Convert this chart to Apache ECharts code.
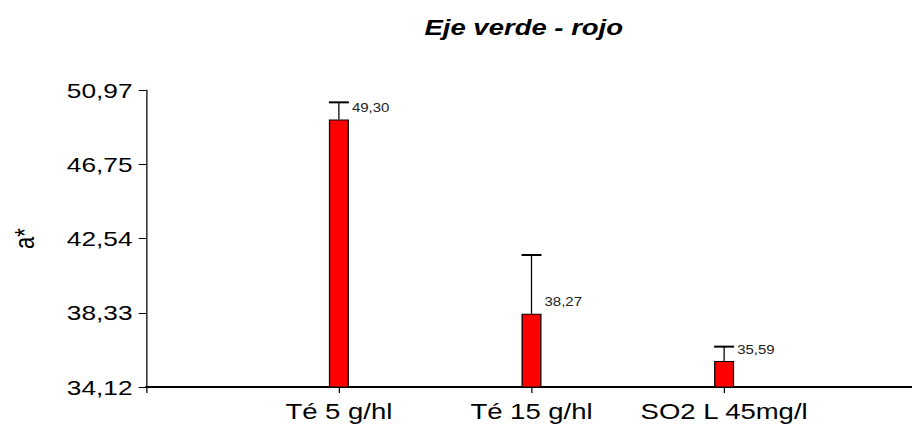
<!DOCTYPE html>
<html>
<head>
<meta charset="utf-8">
<script src="https://cdn.jsdelivr.net/npm/echarts@6/dist/echarts.min.js"></script>
<style>
  html, body { margin: 0; padding: 0; background: #fff; overflow: hidden; width: 912px; height: 428px; }
  /* the chart is laid out narrower and stretched horizontally; its right end runs off the page */
  #chart { width: 740px; height: 428px; transform: scaleX(1.25); transform-origin: 0 0; }
</style>
</head>
<body>
<div id="chart"></div>
<script>
// Treatments
const categories = ['Té 5 g/hl', 'Té 15 g/hl', 'SO2 L 45mg/l'];
// Mean a* per treatment
const means = [49.30, 38.27, 35.59];
// Upper error (standard deviation) per treatment
const errors = [0.97, 3.34, 0.82];
// Y axis tick values
const yTicks = [34.12, 38.33, 42.54, 46.75, 50.97];

const FONT = '"Liberation Sans", Arial, sans-serif';
const fmt = v => Number(v).toFixed(2).replace('.', ',');

// blank slots on both ends keep the treatments off the axis ends
const axisCats = [''].concat(categories, ['']);
const barData = ['-'].concat(means, ['-']);
const errData = means.map((m, i) => [i + 1, m, errors[i]]);

const chart = echarts.init(document.getElementById('chart'), null, { renderer: 'svg' });

chart.setOption({
  animation: false,
  backgroundColor: '#ffffff',
  graphic: [{
    type: 'text',
    x: 419,
    y: 27,
    style: {
      text: 'Eje verde - rojo',
      font: 'italic bold 22px ' + FONT,
      fill: '#000',
      textAlign: 'center',
      textVerticalAlign: 'middle'
    }
  }],
  grid: { left: 113.6, right: 6.6, top: 90, bottom: 41, containLabel: false },
  xAxis: {
    type: 'category',
    data: axisCats,
    boundaryGap: false,
    axisLine: { show: true, lineStyle: { color: '#000', width: 2 } },
    axisTick: {
      show: true, length: 6, lineStyle: { color: '#000', width: 1 },
      interval: idx => idx < axisCats.length - 1
    },
    axisLabel: { color: '#000', fontSize: 22, fontFamily: FONT, margin: 13, interval: 0 },
    splitLine: { show: false }
  },
  yAxis: {
    type: 'value',
    min: 34.12,
    max: 50.97,
    name: 'a*',
    nameLocation: 'middle',
    nameGap: 87,
    nameRotate: 90,
    nameTextStyle: { color: '#000', fontSize: 22, fontFamily: FONT },
    axisLine: { show: true, lineStyle: { color: '#000', width: 1 } },
    axisTick: { show: true, length: 6, customValues: yTicks, lineStyle: { color: '#000', width: 1 } },
    axisLabel: {
      show: true, customValues: yTicks, color: '#000', fontSize: 21, fontFamily: FONT, margin: 11,
      formatter: v => fmt(v)
    },
    splitLine: { show: false }
  },
  series: [
    {
      type: 'bar',
      data: barData,
      barWidth: 16,
      itemStyle: { color: '#ff0000', borderColor: '#000', borderWidth: 1 },
      z: 2
    },
    {
      type: 'custom',
      data: errData,
      z: 3,
      renderItem: function (params, api) {
        const x = api.value(0);
        const m = api.value(1);
        const e = api.value(2);
        const pBar = api.coord([x, m]);
        const pTop = api.coord([x, m + e]);
        const half = 8;
        return {
          type: 'group',
          children: [
            { type: 'line', shape: { x1: pBar[0], y1: pBar[1], x2: pTop[0], y2: pTop[1] },
              style: { stroke: '#000', lineWidth: 1 } },
            { type: 'line', shape: { x1: pTop[0] - half, y1: pTop[1], x2: pTop[0] + half, y2: pTop[1] },
              style: { stroke: '#000', lineWidth: 2 } },
            { type: 'text', x: pBar[0] + 10.4, y: pBar[1] - 11.5,
              style: { text: fmt(m), font: '12px ' + FONT, fill: '#222',
                       textAlign: 'left', textVerticalAlign: 'middle' } }
          ]
        };
      }
    }
  ]
});
</script>
</body>
</html>
